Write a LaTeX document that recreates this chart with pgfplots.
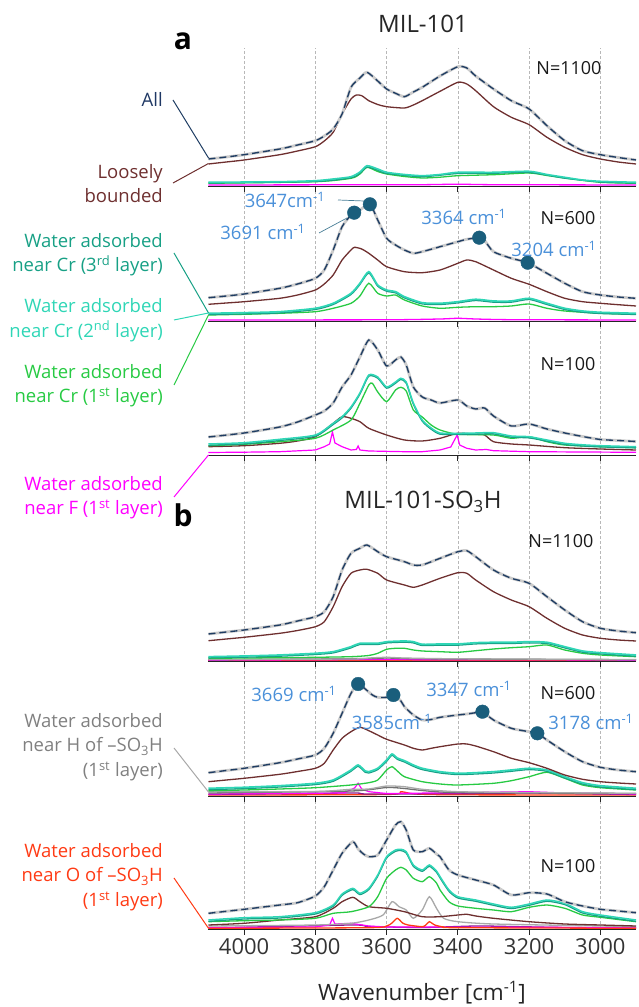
\documentclass[border=0pt]{standalone}
\usepackage{fontspec}
\setmainfont{Open Sans}
\usepackage{pgfplots}
\usepackage{pgfplotstable}
\pgfplotsset{compat=1.18}

\definecolor{cAll}{HTML}{1F3D63}
\definecolor{cAllTxt}{HTML}{1F3864}
\definecolor{cMark}{HTML}{1A5E7C}
\definecolor{cLoose}{HTML}{6E2F2F}
\definecolor{cCr3}{HTML}{17A085}
\definecolor{cCr2}{HTML}{2FD6B6}
\definecolor{cCr1}{HTML}{27CA43}
\definecolor{cF}{HTML}{FF00FF}
\definecolor{cH}{HTML}{A8A8A8}
\definecolor{cHTxt}{HTML}{808080}
\definecolor{cO}{HTML}{FF3A14}
\definecolor{cAnn}{HTML}{4A90D9}
\definecolor{cPur}{HTML}{8B1A8B}
\definecolor{cDG}{HTML}{707070}

% ---------- "All" spectra (height above each panel's axis, pt) ----------
\pgfplotstableread[row sep=\\]{wn y\\
4100 27\\ 4050 29\\ 4000 31.3\\ 3900 37\\ 3850 41\\ 3800 45.3\\ 3775 50\\ 3750 57\\ 3725 72\\ 3700 98.7\\ 3675 108\\ 3655 113.7\\ 3625 105\\ 3600 97\\ 3575 92.7\\ 3550 89.3\\ 3525 94\\ 3500 98.7\\ 3450 110\\ 3400 119.3\\ 3375 118\\ 3350 110\\ 3300 97\\ 3250 85.3\\ 3200 77\\ 3150 60.3\\ 3100 45.3\\ 3050 35.3\\ 3000 31.3\\ 2950 28.5\\ 2900 26\\
}\allAa
\pgfplotstableread[row sep=\\]{wn y\\
4100 23.3\\ 4050 25\\ 4000 27\\ 3900 32.7\\ 3850 37\\ 3800 42.7\\ 3775 51\\ 3750 71\\ 3725 94.3\\ 3700 106\\ 3691 108.3\\ 3675 111\\ 3647 116.7\\ 3625 101\\ 3600 82.7\\ 3575 76\\ 3550 71\\ 3525 67.7\\ 3500 69.3\\ 3450 74.3\\ 3400 79.3\\ 3375 81.7\\ 3340 83.3\\ 3325 80.5\\ 3300 69.3\\ 3250 62.7\\ 3204 58.3\\ 3150 47.7\\ 3100 37.7\\ 3050 29.3\\ 3000 26\\ 2950 24\\ 2900 22.7\\
}\allAb
\pgfplotstableread[row sep=\\]{wn y\\
4100 18\\ 4000 22\\ 3900 28\\ 3850 33\\ 3800 40\\ 3775 44\\ 3750 52\\ 3725 68\\ 3700 80\\ 3675 98\\ 3650 115\\ 3625 105\\ 3600 89\\ 3575 95\\ 3560 98\\ 3545 90\\ 3525 68\\ 3500 58\\ 3475 55\\ 3450 52\\ 3400 55\\ 3375 49\\ 3350 46\\ 3325 47\\ 3300 39\\ 3250 29\\ 3200 31\\ 3150 26\\ 3100 22\\ 3050 18.5\\ 3000 15.5\\ 2950 14.5\\ 2900 13.5\\
}\allAc
\pgfplotstableread[row sep=\\]{wn y\\
4100 27\\ 4050 29\\ 4000 31\\ 3900 36\\ 3850 40\\ 3800 44.3\\ 3775 49.3\\ 3750 64.3\\ 3725 91\\ 3700 107.7\\ 3675 112.7\\ 3655 116\\ 3625 109.3\\ 3600 104.3\\ 3550 99.3\\ 3525 96\\ 3500 96\\ 3450 102.7\\ 3400 109.3\\ 3375 110.3\\ 3350 104.3\\ 3300 91\\ 3250 82.7\\ 3200 77.7\\ 3150 64.3\\ 3100 51\\ 3050 39.3\\ 3000 32.7\\ 2950 30\\ 2900 28.3\\
}\allBa
\pgfplotstableread[row sep=\\]{wn y\\
4100 23.3\\ 4050 25.5\\ 4000 27.7\\ 3900 33.3\\ 3850 37\\ 3800 41\\ 3775 47.7\\ 3750 62.7\\ 3725 82.7\\ 3700 102.7\\ 3680 112\\ 3660 107\\ 3640 101\\ 3625 98.7\\ 3600 98.7\\ 3581 101\\ 3560 95\\ 3550 89.3\\ 3525 81\\ 3500 76\\ 3475 76.5\\ 3450 78.7\\ 3400 81\\ 3375 82\\ 3350 83.3\\ 3331 84.3\\ 3300 76\\ 3250 67.7\\ 3200 64.3\\ 3177 62.7\\ 3150 56\\ 3100 44.3\\ 3050 34.3\\ 3000 28.7\\ 2950 26\\ 2900 24.3\\
}\allBb
\pgfplotstableread[row sep=\\]{wn y\\
4100 15.7\\ 4000 19.7\\ 3900 24\\ 3850 26.3\\ 3800 33\\ 3775 42.3\\ 3750 59\\ 3725 75.7\\ 3695 87.3\\ 3680 80\\ 3665 75\\ 3650 72.3\\ 3625 74\\ 3600 89\\ 3575 104\\ 3560 107.3\\ 3545 99\\ 3525 79\\ 3500 77.3\\ 3480 80.7\\ 3460 75\\ 3450 72.3\\ 3425 59\\ 3400 54\\ 3350 49\\ 3300 44\\ 3250 34\\ 3200 36.3\\ 3150 35\\ 3100 27.3\\ 3050 23\\ 3000 19.7\\ 2950 18\\ 2900 16.3\\
}\allBc

\pgfplotsset{
  panel/.style={scale only axis, width=427.5pt, height=#1pt, ymin=0, ymax=#1,
    xmin=2900, xmax=4100, x dir=reverse, anchor=south west,
    axis x line=bottom, axis y line=none,
    axis line style={-, black!85, line width=0.9pt},
    xtick={3000,3200,3400,3600,3800,4000}, xticklabels={},
    tick style={black!85, line width=0.9pt}, major tick length=6pt, tick align=outside,
    clip=false},
  crv/.style={no markers, smooth, tension=0.4, line width=1.3pt},
  sharp/.style={no markers, line width=1.2pt},
  mk/.style={only marks, mark=*, mark size=6.8pt, color=cMark},
}
\newcommand{\allplot}[1]{%
  \addplot[crv, line width=2.8pt, color=black!20] table {#1};
  \addplot[crv, color=cAll, line width=1.35pt, dash pattern=on 7pt off 4pt] table {#1};}

\newcommand{\lbl}{\fontsize{18.5}{24.5}\selectfont}
\newcommand{\ann}{\fontsize{18.5}{22}\selectfont}
\newcommand{\nlab}{\fontsize{18}{22}\selectfont}

\begin{document}
\begin{tikzpicture}
\useasboundingbox (0pt,0pt) rectangle (638pt,1007pt);

% background grid
\begin{axis}[at={(208.5pt,78pt)}, anchor=south west, scale only axis, width=427.5pt, height=881pt,
  xmin=2900, xmax=4100, x dir=reverse, ymin=0, ymax=1,
  xtick={3000,3200,3400,3600,3800,4000}, ytick=\empty, xticklabels={},
  xmajorgrids, grid style={densely dashed, black!28, line width=0.5pt},
  axis line style={draw=none}, major tick length=0pt]
\addplot[draw=none] coordinates {(3000,0.5)};
\end{axis}

% ================= a1 =================
\begin{axis}[panel=138, at={(208.5pt,821pt)}]
\addplot[crv, color=cF] coordinates {(4100,1) (3700,1.2) (3500,1.3) (3400,1.8) (3300,1.3) (2900,1)};
\addplot[crv, color=cCr1] coordinates {(4100,2.7) (3800,4.3) (3700,7.7) (3675,12) (3655,18.7) (3625,14.5) (3600,12) (3550,9.5) (3500,8) (3450,8.8) (3400,10.3) (3300,11.3) (3200,13) (3150,10.5) (3100,8) (3000,3.7) (2900,2.7)};
\addplot[crv, color=cCr3] coordinates {(4100,3) (3800,4.5) (3700,8.3) (3675,12.8) (3655,19) (3625,15.8) (3600,12.6) (3500,9.3) (3400,12.5) (3300,12.7) (3200,13.6) (3100,7.8) (3000,4) (2900,3)};
\addplot[crv, color=cCr2, line width=1.6pt] coordinates {(4100,3.7) (3900,4.3) (3800,5.3) (3750,7) (3700,9.3) (3675,14) (3655,20.3) (3625,17) (3600,13.7) (3550,11.5) (3500,10.3) (3450,11.5) (3400,13.7) (3300,13.7) (3200,14.7) (3150,11.5) (3100,8.7) (3050,6) (3000,4.7) (2900,3.7)};
\addplot[crv, color=cLoose] coordinates {(4100,22) (4050,24) (4000,26) (3900,31.3) (3850,35) (3800,39.3) (3775,45) (3750,53.7) (3725,72) (3700,87) (3685,91) (3670,90.3) (3650,85.3) (3625,81.5) (3600,79.3) (3550,78) (3525,81) (3500,85.3) (3450,94.7) (3400,103.7) (3375,102) (3350,95.3) (3300,79.3) (3250,68.7) (3200,61.3) (3150,48.7) (3100,38.7) (3050,31.3) (3000,27) (2950,24) (2900,22)};
\allplot{\allAa}
\end{axis}

% ================= a2 =================
\begin{axis}[panel=135, at={(208.5pt,686pt)}]
\addplot[crv, color=cF] coordinates {(4100,1) (3600,1.2) (3450,2) (3400,2.7) (3350,2) (3250,1.3) (2900,1)};
\addplot[crv, color=cCr1] coordinates {(4100,6) (4000,6.7) (3900,7.7) (3800,9.3) (3750,12.7) (3700,17.7) (3675,25) (3650,37.7) (3625,27.7) (3600,25) (3575,26) (3550,21) (3500,15) (3450,12.7) (3400,13.7) (3350,14.3) (3300,14.3) (3250,15) (3200,17) (3150,12.7) (3100,10) (3000,7.7) (2900,6.7)};
\addplot[crv, color=cCr3] coordinates {(4100,6.5) (4000,7.1) (3900,8.1) (3800,11.5) (3750,16.5) (3700,26.5) (3675,36.5) (3650,48) (3625,34.8) (3600,29.8) (3575,28.1) (3550,23.1) (3500,17.1) (3450,16.5) (3400,18.1) (3350,20.5) (3300,18.8) (3250,18.8) (3200,21.5) (3150,16.5) (3100,11.5) (3050,8.8) (3000,7.5) (2900,6.5)};
\addplot[crv, color=cCr2, line width=1.7pt] coordinates {(4100,7.7) (4000,8.3) (3900,9.3) (3800,12.7) (3750,17.7) (3700,27.7) (3675,37.7) (3650,49.3) (3625,36) (3600,31) (3575,29.3) (3550,24.3) (3500,18.3) (3450,17.7) (3400,19.3) (3350,21.7) (3300,20) (3250,20) (3200,22.7) (3150,17.7) (3100,12.7) (3050,10) (3000,8.7) (2900,7.7)};
\addplot[crv, color=cLoose] coordinates {(4100,16.7) (4050,18) (4000,19.3) (3900,22.7) (3850,26) (3800,31) (3775,37) (3750,46) (3725,61) (3700,71) (3690,73.7) (3670,72) (3650,67.7) (3625,61) (3600,54.3) (3550,49.3) (3500,48.3) (3450,51) (3400,57.7) (3375,61) (3350,59.3) (3300,51) (3250,42.7) (3200,36.7) (3150,29.3) (3100,22.7) (3050,19.3) (3000,17.7) (2950,16.3) (2900,15)};
\allplot{\allAb}
\addplot[mk] coordinates {(3691,108.3) (3647,116.7) (3340,83.3) (3204,58.3)};
\end{axis}

% ================= a3 =================
\begin{axis}[panel=134, at={(208.5pt,552pt)}]
\addplot[sharp, color=cF] coordinates {(4100,2.5) (4000,2.8) (3900,3.3) (3800,5) (3775,8.3) (3760,11) (3752,23) (3745,12) (3725,8.3) (3700,5) (3685,5.5) (3680,9) (3675,5) (3650,4) (3550,3.3) (3500,3.3) (3450,5) (3420,8) (3402,20) (3395,10) (3375,6.7) (3350,5) (3320,5.5) (3300,4.3) (3200,3.3) (2900,2.7)};
\addplot[crv, color=cLoose] coordinates {(4100,8.3) (4000,9.3) (3900,11.7) (3850,14) (3800,18.3) (3750,31.7) (3725,38.3) (3700,36.7) (3675,33.3) (3650,26.7) (3600,20) (3550,15) (3500,14) (3450,16.7) (3400,21.7) (3350,20.7) (3325,20) (3300,13.3) (3250,11) (3200,10) (3100,7.3) (3000,6) (2900,5)};
\addplot[crv, color=cCr1] coordinates {(4100,9.3) (4000,10.7) (3900,13.3) (3800,16.7) (3750,25) (3700,35) (3675,51.7) (3650,70) (3640,71.7) (3625,63) (3600,53.3) (3575,65) (3560,67.7) (3545,64) (3525,45) (3500,38) (3475,30) (3450,25) (3400,20.7) (3300,20) (3250,16.7) (3200,18.3) (3150,13.3) (3100,10) (3000,8.3) (2900,7.3)};
\addplot[crv, color=cCr3] coordinates {(4100,9.8) (4000,11.1) (3900,14.5) (3800,18.8) (3750,30.5) (3725,37.1) (3700,46.8) (3675,60.8) (3650,78.8) (3625,76.8) (3600,66.8) (3575,71.8) (3560,75.5) (3545,71.8) (3525,50.8) (3500,33.8) (3475,25.8) (3450,20.8) (3400,20.5) (3350,20.8) (3300,21.1) (3250,17.8) (3200,17.1) (3150,13.8) (3100,10.5) (3050,9) (3000,8.1) (2900,7.1)};
\addplot[crv, color=cCr2, line width=1.5pt] coordinates {(4100,11) (4000,12.3) (3900,15.7) (3800,20) (3750,31.7) (3725,38.3) (3700,48) (3675,62) (3650,80) (3625,78) (3600,68) (3575,73) (3560,76.7) (3545,73) (3525,52) (3500,35) (3475,27) (3450,22) (3400,21.7) (3350,22) (3300,22.3) (3250,19) (3200,18.3) (3150,15) (3100,11.7) (3050,10.2) (3000,9.3) (2900,8.3)};
\allplot{\allAc}
\end{axis}

% ================= b1 =================
\begin{axis}[panel=135, at={(208.5pt,346pt)}]
\addplot[crv, color=cO] coordinates {(4100,0.4) (2900,0.4)};
\addplot[crv, color=cF] coordinates {(4100,0.8) (3650,1.5) (3400,1.2) (3200,1.3) (2900,0.8)};
\addplot[crv, color=cDG] coordinates {(4100,1.2) (3650,2.5) (3600,3) (3500,2.2) (2900,1.2)};
\addplot[crv, color=cH] coordinates {(4100,1.5) (3700,2) (3650,3) (3600,3.7) (3550,3) (3400,2.2) (2900,1.5)};
\addplot[crv, color=cCr1] coordinates {(4100,2.7) (3900,3.3) (3800,3.7) (3700,4.3) (3650,5.5) (3625,7.7) (3600,11.7) (3575,12.7) (3550,12.7) (3525,11) (3500,10) (3450,9.3) (3400,8.7) (3350,10.3) (3300,12) (3250,13.3) (3200,14.3) (3150,16) (3100,11) (3050,7.7) (3000,6) (2900,4.3)};
\addplot[crv, color=cCr3] coordinates {(4100,3.1) (4000,3.8) (3900,4.8) (3800,6.5) (3750,8.1) (3700,13.1) (3675,16.5) (3625,16.5) (3600,18.1) (3550,18.8) (3525,18.1) (3500,15.5) (3450,15.8) (3400,15.8) (3350,17.1) (3300,17.5) (3250,17.5) (3200,18.1) (3150,17.5) (3100,13.1) (3050,8.8) (3000,7.1) (2900,4.8)};
\addplot[crv, color=cCr2, line width=1.7pt] coordinates {(4100,4.3) (4000,5) (3900,6) (3800,7.7) (3750,9.3) (3700,14.3) (3675,17.7) (3625,17.7) (3600,19.3) (3550,20) (3525,19.3) (3500,16.7) (3450,17) (3400,17) (3350,18.3) (3300,18.7) (3250,18.7) (3200,19.3) (3150,18.7) (3100,14.3) (3050,10) (3000,8.3) (2900,6)};
\addplot[crv, color=cLoose] coordinates {(4100,20.3) (4050,22) (4000,23.7) (3900,27.7) (3850,30.5) (3800,34.3) (3775,39.3) (3750,54.3) (3725,74.3) (3700,87.7) (3675,91) (3655,91.7) (3625,87.7) (3600,81) (3550,76) (3525,73.7) (3500,76) (3450,82.7) (3400,88.3) (3375,87.7) (3350,81) (3300,69.3) (3250,61) (3200,54.3) (3150,42.7) (3100,32.7) (3050,26) (3000,22.7) (2950,21) (2900,20)};
\allplot{\allBa}
\end{axis}

% ================= b2 =================
\begin{axis}[panel=135, at={(208.5pt,211pt)}]
\addplot[crv, color=cO] coordinates {(4100,1) (3600,1.5) (3560,4.3) (3520,2) (3400,1.2) (2900,1)};
\addplot[crv, color=cPur] coordinates {(4100,1.5) (3700,3) (3650,2) (3300,2.5) (3200,3) (2900,1.5)};
\addplot[sharp, color=cF] coordinates {(4100,2) (3720,3) (3690,8) (3680,12.7) (3670,7) (3650,4.3) (3600,2.5) (3400,3.3) (3200,4.3) (3100,3) (2900,2)};
\addplot[crv, color=cDG] coordinates {(4100,3) (3700,5) (3600,8.5) (3550,7.5) (3500,5.5) (3400,3.5) (2900,2.5)};
\addplot[crv, color=cH] coordinates {(4100,4.3) (3800,4.5) (3700,6.7) (3650,7) (3600,10) (3550,9.3) (3500,6.7) (3400,4.3) (3200,3.5) (2900,2.7)};
\addplot[crv, color=cCr1] coordinates {(4100,5.3) (4000,6) (3900,7) (3800,8.3) (3700,11) (3650,13.3) (3625,16) (3600,26) (3585,29.3) (3570,25) (3550,19.3) (3500,14.3) (3450,12) (3400,11) (3300,12.7) (3250,15.3) (3200,19.3) (3150,23.7) (3100,17.7) (3050,11) (3000,8.3) (2900,6)};
\addplot[crv, color=cCr3] coordinates {(4100,6.4) (4000,7.4) (3900,9) (3800,11.4) (3750,14.7) (3700,24.7) (3680,29.7) (3660,23.7) (3650,23) (3625,26.4) (3600,34.7) (3585,40.7) (3570,36.7) (3550,34) (3525,29.7) (3500,26.4) (3450,23) (3400,21.4) (3350,22) (3300,23) (3250,24.7) (3200,26.4) (3150,24.7) (3100,18) (3050,12) (3000,9) (2900,6.4)};
\addplot[crv, color=cCr2, line width=1.7pt] coordinates {(4100,7.7) (4000,8.7) (3900,10.3) (3800,12.7) (3750,16) (3700,26) (3680,31) (3660,25) (3650,24.3) (3625,27.7) (3600,36) (3585,42) (3570,38) (3550,35.3) (3525,31) (3500,27.7) (3450,24.3) (3400,22.7) (3350,23.3) (3300,24.3) (3250,26) (3200,27.7) (3150,26) (3100,19.3) (3050,13.3) (3000,10.3) (2900,7.7)};
\addplot[crv, color=cLoose] coordinates {(4100,14.3) (4050,16) (4000,17.7) (3900,21.7) (3850,24.5) (3800,27.7) (3775,32.7) (3750,46) (3725,57.7) (3700,64.3) (3675,68.7) (3650,65.3) (3625,61) (3600,56.7) (3550,51) (3525,47.7) (3500,46) (3475,47.7) (3450,49.3) (3400,52) (3375,52) (3350,50) (3300,44.3) (3250,37.7) (3200,33.3) (3150,27.7) (3100,21) (3050,16.7) (3000,14.3) (2950,13) (2900,12)};
\allplot{\allBb}
\addplot[mk] coordinates {(3680,112) (3581,101) (3331,84.3) (3177,62.7)};
\end{axis}

% ================= b3 =================
\begin{axis}[panel=134, at={(208.5pt,78pt)},
  xticklabels={3000,3200,3400,3600,3800,4000},
  xticklabel style={font=\fontsize{22}{24}\selectfont, text=black!80}]
\addplot[crv, color=cPur] coordinates {(4100,1) (3700,4) (3650,2.5) (3500,1.5) (3350,3) (3250,2.5) (3100,1.5) (2900,1)};
\addplot[sharp, color=cF] coordinates {(4100,1.5) (3800,2) (3760,4) (3752,10.7) (3745,5) (3700,5.7) (3650,3) (3600,2) (2900,1.5)};
\addplot[crv, color=cH] coordinates {(4100,3) (3800,4) (3700,5.7) (3650,9) (3610,14) (3585,27.3) (3565,22.3) (3545,19) (3525,10.7) (3500,19) (3480,32.3) (3460,20.7) (3440,10.7) (3400,7.3) (3300,5) (3000,3) (2900,2.3)};
\addplot[crv, color=cO] coordinates {(4100,0.7) (3650,1.3) (3600,3) (3585,6) (3570,10.7) (3555,6) (3540,4) (3500,2.3) (3490,4) (3480,7.3) (3465,4) (3440,2) (3400,1.3) (2900,0.7)};
\addplot[crv, color=cLoose] coordinates {(4100,4) (4000,5.7) (3900,9) (3800,12.3) (3750,20.7) (3725,27.3) (3695,31.7) (3675,27.3) (3650,22.3) (3600,20.7) (3550,17.3) (3500,12.3) (3450,12.3) (3400,14) (3375,14.7) (3350,13) (3300,10.7) (3200,7.3) (3100,5) (3000,4) (2900,3)};
\addplot[crv, color=cCr1] coordinates {(4100,7.3) (4000,8.3) (3900,9) (3800,10.7) (3750,15.7) (3700,17.3) (3650,22.3) (3625,32.3) (3600,50.7) (3575,59) (3560,61.7) (3545,59) (3525,50.7) (3500,47.3) (3480,52.3) (3460,46) (3450,39) (3425,27.3) (3400,23) (3350,20.7) (3300,19) (3250,17.3) (3200,21.7) (3150,24) (3100,20.7) (3050,14) (3000,11.7) (2900,7.3)};
\addplot[crv, color=cCr3] coordinates {(4100,7.7) (4000,10) (3900,11) (3800,15) (3750,22.7) (3725,33.7) (3695,39.4) (3675,34.4) (3650,39.4) (3625,52.7) (3600,71) (3575,77.7) (3560,78.4) (3545,76) (3525,62.7) (3500,57.7) (3480,62.7) (3460,56.7) (3450,51) (3425,37.7) (3400,31) (3350,27.7) (3300,23.7) (3250,20.4) (3200,23.7) (3150,27.7) (3100,24.4) (3050,16) (3000,12.7) (2900,7.7)};
\addplot[crv, color=cCr2, line width=1.5pt] coordinates {(4100,9) (4000,11.3) (3900,12.3) (3800,16.3) (3750,24) (3725,35) (3695,40.7) (3675,35.7) (3650,40.7) (3625,54) (3600,72.3) (3575,79) (3560,79.7) (3545,77.3) (3525,64) (3500,59) (3480,64) (3460,58) (3450,52.3) (3425,39) (3400,32.3) (3350,29) (3300,25) (3250,21.7) (3200,25) (3150,29) (3100,25.7) (3050,17.3) (3000,14) (2900,9)};
\allplot{\allBc}
\end{axis}

% ---------- titles, letters, N labels ----------
\node[font=\fontsize{24}{28}\selectfont, text=black!85] at (423pt,983pt) {MIL-101};
\node[font=\fontsize{24}{28}\selectfont, text=black!85] at (423pt,505pt) {MIL-101-SO\textsubscript{3}H};
\node[font=\fontsize{30}{32}\selectfont\bfseries] at (183pt,966pt) {a};
\node[font=\fontsize{30}{32}\selectfont\bfseries] at (183pt,492pt) {b};

\node[font=\nlab, text=black!90] at (569pt,939pt) {N=1100};
\node[font=\nlab, text=black!90] at (568pt,789pt) {N=600};
\node[font=\nlab, text=black!90] at (568pt,643pt) {N=100};
\node[font=\nlab, text=black!90] at (561pt,466pt) {N=1100};
\node[font=\nlab, text=black!90] at (568pt,314pt) {N=600};
\node[font=\nlab, text=black!90] at (568pt,141pt) {N=100};

% ---------- peak annotations ----------
\node[font=\ann, text=cAnn] at (285pt,807pt) {3647cm\textsuperscript{-1}};
\node[font=\ann, text=cAnn] at (263pt,775pt) {3691 cm\textsuperscript{-1}};
\node[font=\ann, text=cAnn] at (464pt,790pt) {3364 cm\textsuperscript{-1}};
\node[font=\ann, text=cAnn] at (554pt,758pt) {3204 cm\textsuperscript{-1}};
\draw[cMark!80, line width=0.7pt] (338pt,807pt) -- (364pt,806pt);
\draw[cMark!80, line width=0.7pt] (319pt,774pt) -- (347pt,789pt);

\node[font=\ann, text=cAnn] at (294pt,313pt) {3669 cm\textsuperscript{-1}};
\node[font=\ann, text=cAnn] at (392pt,285pt) {3585cm\textsuperscript{-1}};
\node[font=\ann, text=cAnn] at (469pt,318pt) {3347 cm\textsuperscript{-1}};
\node[font=\ann, text=cAnn] at (591pt,285pt) {3178 cm\textsuperscript{-1}};

% ---------- left labels and leader lines ----------
\node[anchor=east, align=right, inner sep=0pt, font=\lbl, text=cAllTxt] at (163pt,908pt) {All};
\node[anchor=east, align=right, inner sep=0pt, font=\lbl, text=cLoose] at (163pt,823.5pt) {Loosely\\bounded};
\node[anchor=east, align=right, inner sep=0pt, font=\lbl, text=cCr3] at (163pt,752.5pt) {Water adsorbed\\near Cr (3\textsuperscript{rd} layer)};
\node[anchor=east, align=right, inner sep=0pt, font=\lbl, text=cCr2] at (163pt,687pt) {Water adsorbed\\near Cr (2\textsuperscript{nd} layer)};
\node[anchor=east, align=right, inner sep=0pt, font=\lbl, text=cCr1] at (163pt,621.5pt) {Water adsorbed\\near Cr (1\textsuperscript{st} layer)};
\node[anchor=east, align=right, inner sep=0pt, font=\lbl, text=cF] at (163pt,509.5pt) {Water adsorbed\\near F (1\textsuperscript{st} layer)};
\node[anchor=east, align=right, inner sep=0pt, font=\lbl, text=cHTxt] at (163pt,260pt) {Water adsorbed\\near H of –SO\textsubscript{3}H\\(1\textsuperscript{st} layer)};
\node[anchor=east, align=right, inner sep=0pt, font=\lbl, text=cO] at (163pt,130pt) {Water adsorbed\\near O of –SO\textsubscript{3}H\\(1\textsuperscript{st} layer)};

\draw[cAll, line width=1pt] (173pt,907pt) -- (208.5pt,849pt);
\draw[cLoose, line width=1pt] (173pt,824pt) -- (208.5pt,843.5pt);
\draw[cCr3, line width=1pt] (174pt,754pt) -- (208.5pt,694pt);
\draw[cCr2, line width=1pt] (174pt,687pt) -- (208.5pt,694pt);
\draw[cCr1, line width=1pt] (174pt,622pt) -- (208.5pt,692pt);
\draw[cF, line width=1pt] (174pt,510pt) -- (208.5pt,552pt);
\draw[cH, line width=1pt] (174pt,259pt) -- (208.5pt,215pt);
\draw[cO, line width=1pt] (174pt,129pt) -- (208.5pt,78.7pt);

% x label
\node[anchor=base, font=\fontsize{22.5}{26}\selectfont, text=black!85] at (422pt,6.5pt) {Wavenumber [cm\textsuperscript{-1}]};
\end{tikzpicture}
\end{document}
